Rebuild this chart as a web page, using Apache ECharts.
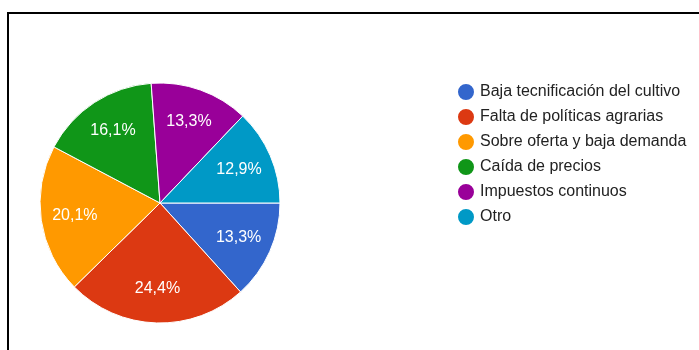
<!DOCTYPE html>
<html>
<head>
<meta charset="utf-8">
<script src="https://cdn.jsdelivr.net/npm/echarts@6/dist/echarts.min.js"></script>
<style>
  html, body { margin: 0; padding: 0; background: #fff; }
  #frame { position: absolute; left: 7px; top: 12px; width: 700px; height: 350px;
           border-left: 2px solid #000; border-top: 2px solid #000; }
  #chart { position: absolute; left: 0; top: 0; width: 699px; height: 350px; }
</style>
</head>
<body>
<div id="frame"></div>
<div id="chart"></div>
<script>
// Causes and their share of responses (%)
const categories = [
  'Baja tecnificación del cultivo',
  'Falta de políticas agrarias',
  'Sobre oferta y baja demanda',
  'Caída de precios',
  'Impuestos continuos',
  'Otro'
];
const shares = [13.3, 24.4, 20.1, 16.1, 13.3, 12.9];
const colors = ['#3366cc', '#dc3912', '#ff9900', '#109618', '#990099', '#0099c6'];

const pieData = categories.map((name, i) => ({ name, value: shares[i] }));
const fmt = v => v.toFixed(1).replace('.', ',') + '%';

const chart = echarts.init(document.getElementById('chart'));
chart.setOption({
  animation: false,
  color: colors,
  textStyle: { fontFamily: 'Liberation Sans, Arial, sans-serif' },
  legend: {
    orient: 'vertical',
    left: 451,
    top: 77,
    icon: 'circle',
    itemWidth: 18,
    itemHeight: 18,
    itemGap: 5,
    textStyle: { fontSize: 16, lineHeight: 16, color: '#222', padding: [0, 0, 0, 0] },
    data: categories
  },
  series: [
    {
      type: 'pie',
      center: [160, 203],
      radius: [0, 120],
      startAngle: 0,
      clockwise: true,
      label: { show: false },
      labelLine: { show: false },
      itemStyle: { borderColor: '#fff', borderWidth: 1 },
      data: pieData
    },
    {
      // transparent ring used only to place the value labels
      type: 'pie',
      center: [160, 203],
      radius: [46, 120],
      startAngle: 0,
      clockwise: true,
      silent: true,
      legendHoverLink: false,
      itemStyle: { color: 'rgba(0,0,0,0)' },
      label: {
        show: true,
        position: 'inside',
        color: '#fff',
        fontSize: 16,
        formatter: p => fmt(p.value)
      },
      labelLine: { show: false },
      data: pieData
    }
  ]
});
</script>
</body>
</html>
